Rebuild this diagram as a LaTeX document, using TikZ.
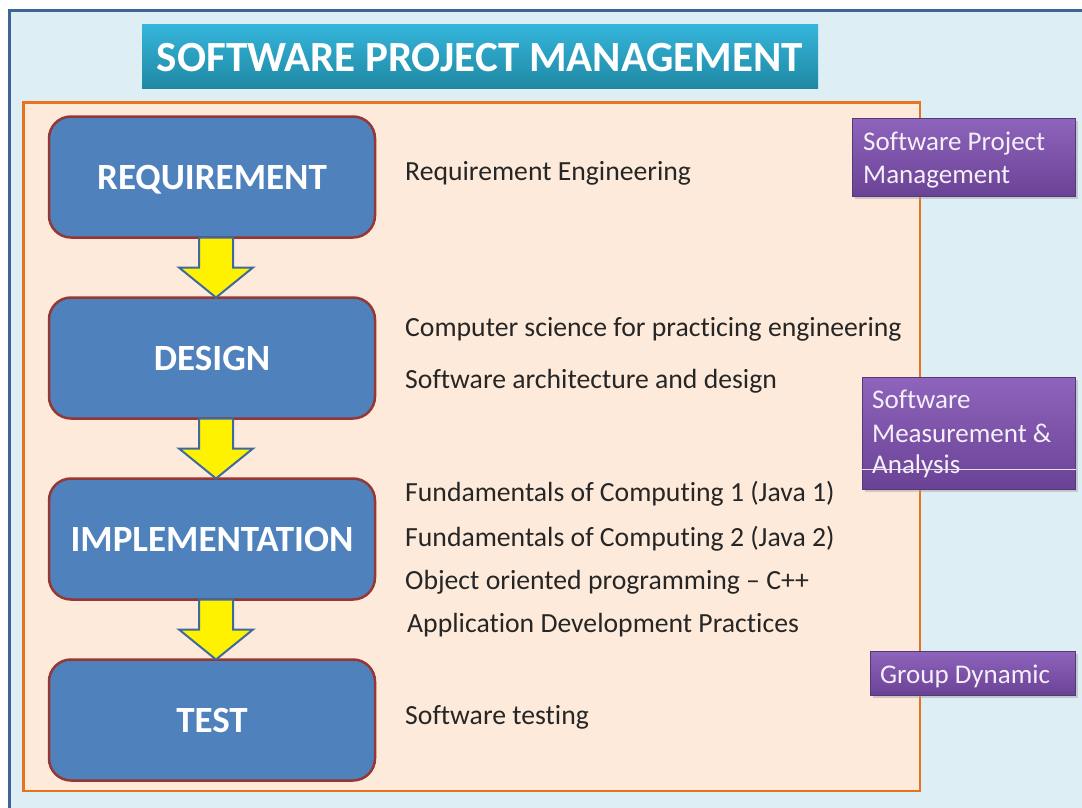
\documentclass[tikz,border=0pt]{standalone}
\usepackage{fontspec}
\setmainfont{Carlito}[RawFeature=-liga]
\usetikzlibrary{calc}
\definecolor{outerfill}{HTML}{DDEEF4}
\definecolor{outerline}{HTML}{3F6496}
\definecolor{orangefill}{HTML}{FDEADA}
\definecolor{orangeline}{HTML}{E8731E}
\definecolor{boxfill}{HTML}{4F81BD}
\definecolor{boxline}{HTML}{953735}
\definecolor{titletop}{HTML}{35B5DB}
\definecolor{titlebot}{HTML}{1F88A3}
\definecolor{purtop}{HTML}{8E64BC}
\definecolor{purbot}{HTML}{6A4295}
\definecolor{purline}{HTML}{553878}
\definecolor{arrowline}{HTML}{3E6A9C}
\definecolor{txt}{HTML}{262626}
\begin{document}
\begin{tikzpicture}[x=1pt,y=-1pt,
  stagebox/.style={draw=boxline, line width=2.5pt, fill=boxfill, rounded corners=22pt,
    minimum width=326pt, minimum height=121pt, inner sep=0pt, outer sep=0pt, text=white,
    text depth=0pt, font=\fontsize{37}{42}\selectfont\bfseries},
  course/.style={anchor=west, inner sep=0pt, text=txt, font=\fontsize{27.7}{32}\selectfont},
  purplebox/.style={draw=purline, line width=1pt, top color=purtop, bottom color=purbot,
    anchor=north west, inner sep=0pt},
  ptext/.style={anchor=base west, inner sep=0pt, text=white!90!purtop,
    font=\fontsize{27}{33}\selectfont},
  yarrow/.style={draw=arrowline, line width=2pt, fill=yellow, line join=miter}
]
\useasboundingbox (0,0) rectangle (1082,808);
\clip (0,0) rectangle (1082,808);
\fill[white] (0,0) rectangle (1082,808);
% outer frame
\draw[outerline, line width=3pt, fill=outerfill] (9.5,10.5) rectangle (1100,830);
% title
\node[top color=titletop, bottom color=titlebot, minimum width=676pt, minimum height=64pt,
  inner sep=0pt, text=white, text depth=0pt, font=\fontsize{43}{48}\selectfont\bfseries]
  (title) at (480,57) {SOFTWARE PROJECT MANAGEMENT};
% orange panel
\draw[orangeline, line width=2.5pt, fill=orangefill] (23.5,102.5) rectangle (920,791);
% stage boxes
\node[stagebox] (req) at (212,177) {REQUIREMENT};
\node[stagebox] (des) at (212,358) {DESIGN};
\node[stagebox] (imp) at (212,539) {IMPLEMENTATION};
\node[stagebox] (tst) at (212,720) {TEST};
% arrows
\foreach \a/\b in {req/des, des/imp, imp/tst}{
  \draw[yarrow] ($(\a.south)+(-13,0)$) -- ($(\a.south)+(21,0)$) -- ($(\a.south)+(21,30)$)
    -- ($(\a.south)+(41,30)$) -- ($(\b.north)+(4,0)$) -- ($(\a.south)+(-33,30)$)
    -- ($(\a.south)+(-13,30)$) -- cycle;
}
% course texts
\node[course] (c1) at (405,173) {Requirement Engineering};
\node[course] (c2) at (405,329) {Computer science for practicing engineering};
\node[course] (c3) at (405,381) {Software architecture and design};
\node[course] (c4) at (405,494) {Fundamentals of Computing 1 (Java 1)};
\node[course] (c5) at (405,539) {Fundamentals of Computing 2 (Java 2)};
\node[course] (c6) at (405,582) {Object oriented programming – C++};
\node[course] (c7) at (407,625) {Application Development Practices};
\node[course] (c8) at (405,717) {Software testing};
% purple boxes
\fill[black!35, opacity=0.5] (855,121) rectangle (1078,199);
\node[purplebox, minimum width=223pt, minimum height=78pt] (p1) at (852,118) {};
\node[ptext] (p1a) at ($(p1.north west)+(11,32)$) {Software Project};
\node[ptext] (p1b) at ($(p1.north west)+(11,65)$) {Management};
\fill[black!35, opacity=0.5] (865,380) rectangle (1078,492);
\node[purplebox, minimum width=213pt, minimum height=112pt] (p2) at (862,377) {};
\node[ptext] (p2a) at ($(p2.north west)+(10,31)$) {Software};
\node[ptext] (p2b) at ($(p2.north west)+(10,65)$) {Measurement \&};
\node[ptext] (p2c) at ($(p2.north west)+(10,96)$) {Analysis};
\draw[white!80!purtop, line width=0.6pt] (p2.west |- 0,469) -- (p2.east |- 0,469);
\fill[black!35, opacity=0.5] (873,654) rectangle (1078,698);
\node[purplebox, minimum width=205pt, minimum height=44pt] (p3) at (870,651) {};
\node[ptext] (p3a) at ($(p3.north west)+(10,32)$) {Group Dynamic};
\end{tikzpicture}
\end{document}
